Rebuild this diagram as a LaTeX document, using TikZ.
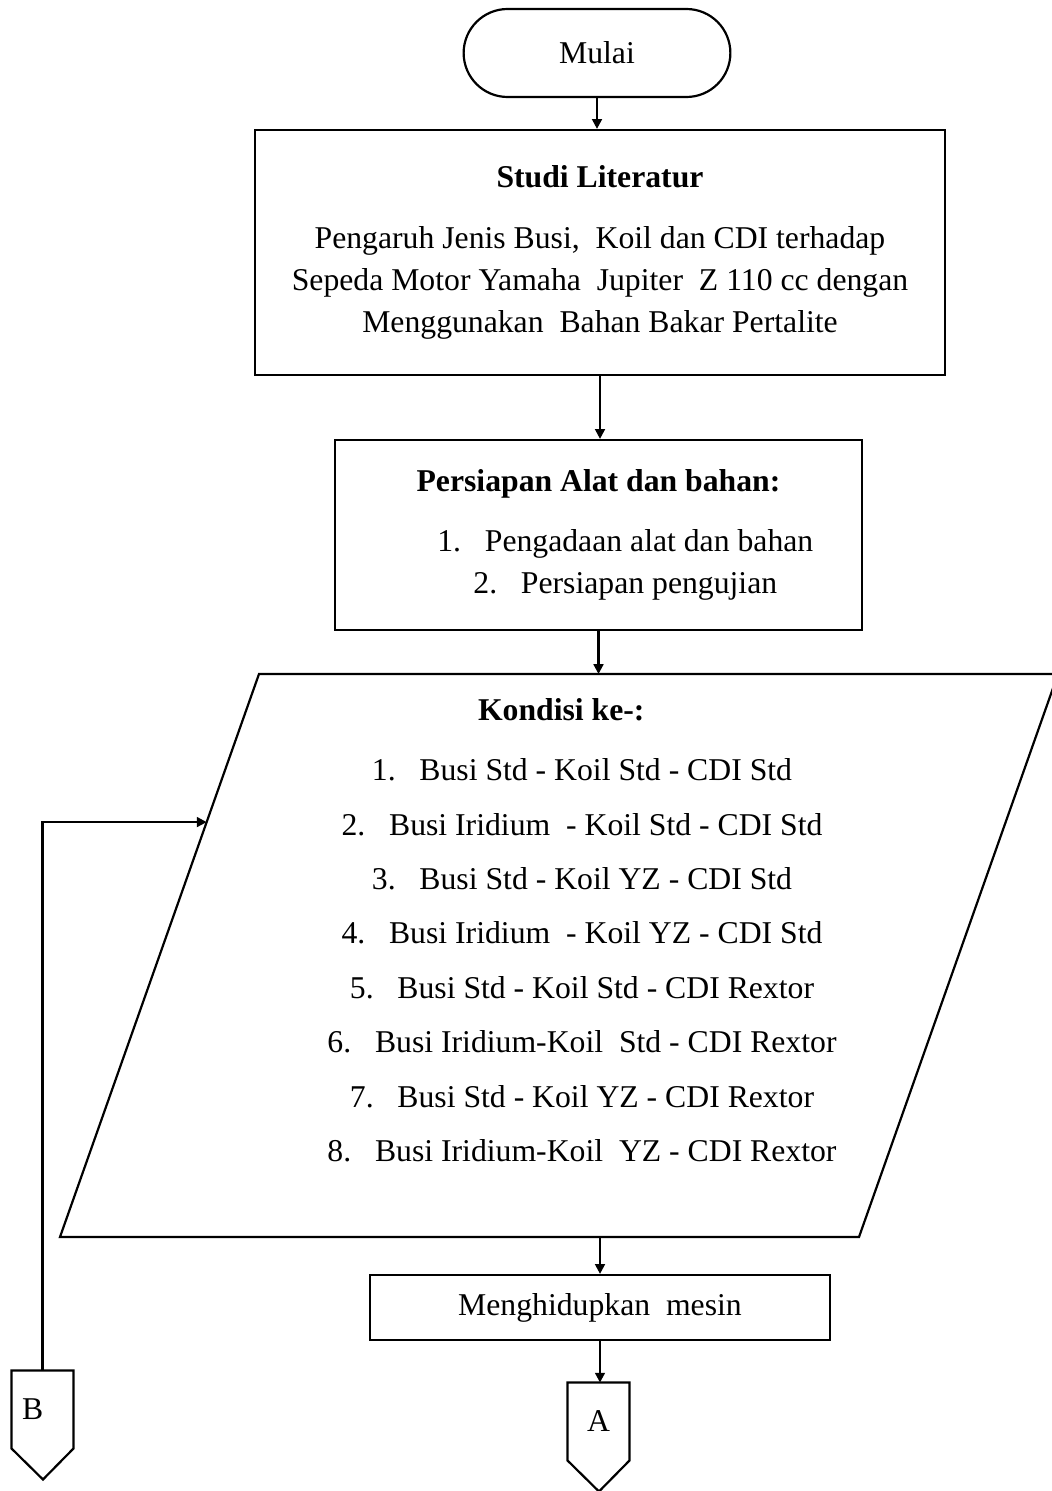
\documentclass[tikz,border=0pt]{standalone}
\usepackage{fontspec}
\setmainfont{Liberation Serif}
\usetikzlibrary{calc,arrows.meta,shapes.misc}
\newcommand{\ux}{0.41pt}
\tikzset{
every node/.style={font=\fontsize{13}{17.3}\selectfont},
terminal/.style={rounded rectangle,draw=black,line width=0.9pt,minimum width={283*\ux},minimum height={88*\ux}},
process/.style={rectangle,draw=black,line width=0.9pt,align=center},
conn/.style={rectangle,inner sep=0pt,minimum width={61*\ux},minimum height={77*\ux}},
arr/.style={line width=0.9pt,-{Triangle[length=4pt,width=4pt]}},
}
\tikzstyle{shape line} = [line width=0.9pt, line join=miter]

\begin{document}
\begin{tikzpicture}[x=0.41pt,y=-0.41pt]
\useasboundingbox (0,0) rectangle (1052,1491);
\node[terminal] (mulai) at (597,53) {Mulai};
\node[process,minimum width={690*\ux},minimum height={245*\ux}] (studi) at (600,252.5)
  {\textbf{Studi Literatur}\\[7.5pt]
   Pengaruh Jenis Busi,\ \ Koil dan CDI terhadap\\
   Sepeda Motor Yamaha\ \ Jupiter\ \ Z 110 cc dengan\\
   Menggunakan\ \ Bahan Bakar Pertalite};
\node[process,minimum width={527*\ux},minimum height={190*\ux}] (alat) at (598.5,535)
  {\textbf{Persiapan Alat dan bahan:}\\[7.5pt]
   \hspace*{22pt}1.\enspace\ Pengadaan alat dan bahan\\
   \hspace*{22pt}2.\enspace\ Persiapan pengujian};
\coordinate (ktl) at (259,674);
\coordinate (ktr) at (1058,674);
\coordinate (kbr) at (859,1237);
\coordinate (kbl) at (60,1237);
\draw[shape line] (ktl) -- (ktr) -- (kbr) -- (kbl) -- cycle;
\node[align=center] (kondisi) at (582,930)
  {\hspace*{-17pt}\textbf{Kondisi ke-:}\\[7.5pt]
   1.\enspace\ Busi Std - Koil Std - CDI Std\\[5pt]
   2.\enspace\ Busi Iridium\ \ - Koil Std - CDI Std\\[5pt]
   3.\enspace\ Busi Std - Koil YZ - CDI Std\\[5pt]
   4.\enspace\ Busi Iridium\ \ - Koil YZ - CDI Std\\[5pt]
   5.\enspace\ Busi Std - Koil Std - CDI Rextor\\[5pt]
   6.\enspace\ Busi Iridium-Koil\ \ Std - CDI Rextor\\[5pt]
   7.\enspace\ Busi Std - Koil YZ - CDI Rextor\\[5pt]
   8.\enspace\ Busi Iridium-Koil\ \ YZ - CDI Rextor};
\node[process,minimum width={460*\ux},minimum height={65*\ux}] (mesin) at (600,1307.5) {Menghidupkan\ \ mesin};
\node[conn] (A) at (598.5,1421.5) {A};
\draw[shape line] (A.north west) -- (A.north east) -- (A.south east) -- ++(-30.5,31) -- (A.south west) -- cycle;
\node[conn] (B) at (42.5,1409.5) {B\hspace*{8pt}};
\draw[shape line] (B.north west) -- (B.north east) -- (B.south east) -- ++(-30.5,31) -- (B.south west) -- cycle;
\coordinate (kin) at ($(ktl)!0.263!(kbl)$);
\draw[arr] (mulai.south) -- (mulai.south |- studi.north);
\draw[arr] (studi.south) -- (studi.south |- alat.north);
\draw[arr] (alat.south) -- (alat.south |- ktl);
\draw[arr] (mesin.north |- kbl) -- (mesin.north);
\draw[arr] (mesin.south) -- (mesin.south |- A.north);
\draw[arr] (B.north) |- (kin);
\end{tikzpicture}
\end{document}
